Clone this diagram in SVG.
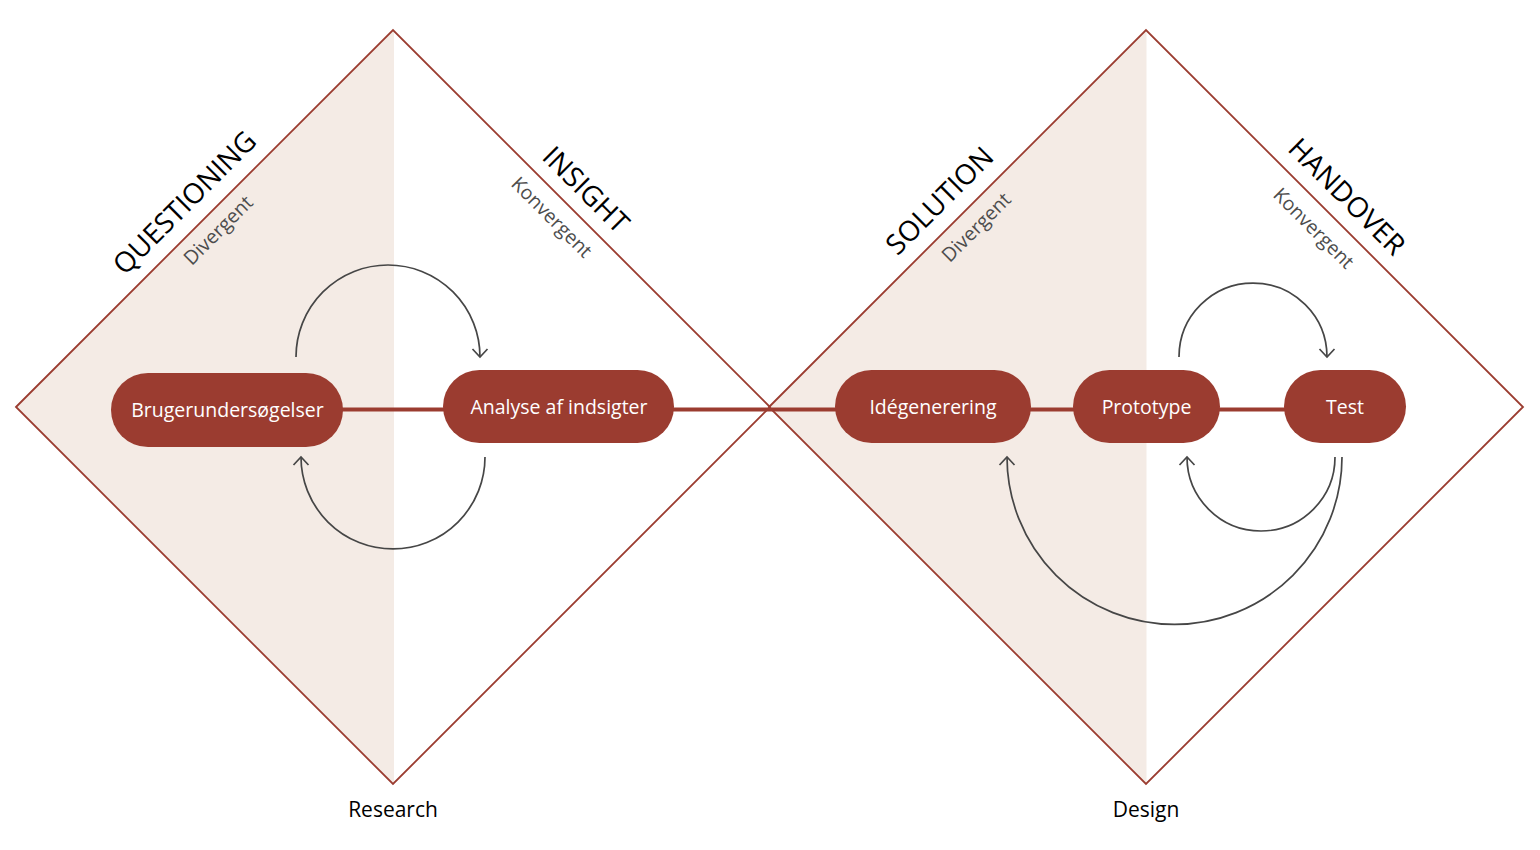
<svg xmlns="http://www.w3.org/2000/svg" width="1540" height="850" viewBox="0 0 1540 850">
<defs>
<style>
.shade{fill:#f4ebe5;stroke:none}
.dia{fill:none;stroke:#9b3c30;stroke-width:1.8;stroke-linejoin:miter}
.pill{fill:#9b3c30}
.link{stroke:#9b3c30;stroke-width:4;fill:none}
.arc{fill:none;stroke:#464646;stroke-width:1.7}
.h{font-family:"Open Sans","Noto Sans",sans-serif;font-size:28px;fill:#000;text-anchor:middle}
.s{font-family:"Open Sans","Noto Sans",sans-serif;font-size:19.5px;fill:#4d4d4d;text-anchor:middle}
.n{font-family:"Open Sans","Noto Sans",sans-serif;font-size:19.5px;fill:#fff;text-anchor:middle}
.b{font-family:"Open Sans","Noto Sans",sans-serif;font-size:21px;fill:#000;text-anchor:middle}
</style>
<marker id="chev" viewBox="-10 -10 20 20" refX="0" refY="0" markerWidth="20" markerHeight="20" markerUnits="userSpaceOnUse" orient="auto">
<path d="M-8,-7.5 L0,0 L-8,7.5" fill="none" stroke="#464646" stroke-width="1.7"/>
</marker>
</defs>

<g id="background">
<polygon class="shade" points="16,407 394,30 394,784"/>
<polygon class="shade" points="769,407 1146.5,30 1146.5,784"/>
<polygon class="dia" points="16,407 393,30 770,407 393,784"/>
<polygon class="dia" points="769,407 1146,30 1523,407 1146,784"/>
</g>

<g id="phase-labels">
<text class="h" transform="translate(191.5,209.5) rotate(-45)">QUESTIONING</text>
<text class="s" transform="translate(223,235) rotate(-45)">Divergent</text>
<text class="h" transform="translate(579,196.5) rotate(45)">INSIGHT</text>
<text class="s" transform="translate(547,222) rotate(45)">Konvergent</text>
<text class="h" transform="translate(946.5,207.5) rotate(-45)">SOLUTION</text>
<text class="s" transform="translate(981,232) rotate(-45)">Divergent</text>
<text class="h" transform="translate(1340,203.5) rotate(45)">HANDOVER</text>
<text class="s" transform="translate(1309,233) rotate(45)">Konvergent</text>
<text class="b" x="393" y="817">Research</text>
<text class="b" x="1146" y="817">Design</text>
</g>

<g id="connectors">
<line class="link" x1="330" y1="409.5" x2="1300" y2="409.5"/>
<path class="arc" d="M296,357 A92,92 0 0 1 480,357" marker-end="url(#chev)"/>
<path class="arc" d="M485,457 A92,92 0 0 1 301,457" marker-end="url(#chev)"/>
<path class="arc" d="M1179,357 A74,74 0 0 1 1327,357" marker-end="url(#chev)"/>
<path class="arc" d="M1335,457 A74,74 0 0 1 1187,457" marker-end="url(#chev)"/>
<path class="arc" d="M1342,457 A167.5,167.5 0 0 1 1007,457" marker-end="url(#chev)"/>
</g>

<g id="node-brugerundersogelser">
<rect class="pill" x="111" y="373" width="232" height="74" rx="37"/>
<text class="n" x="227.5" y="417">Brugerundersøgelser</text>
</g>
<g id="node-analyse">
<rect class="pill" x="443" y="370" width="231" height="73" rx="36.5"/>
<text class="n" x="559" y="413.5">Analyse af indsigter</text>
</g>
<g id="node-idegenerering">
<rect class="pill" x="835" y="370" width="196" height="73" rx="36.5"/>
<text class="n" x="933" y="413.5">Idégenerering</text>
</g>
<g id="node-prototype">
<rect class="pill" x="1073" y="370" width="147" height="73" rx="36.5"/>
<text class="n" x="1146.5" y="413.5">Prototype</text>
</g>
<g id="node-test">
<rect class="pill" x="1284" y="370" width="122" height="73" rx="36.5"/>
<text class="n" x="1345" y="413.5">Test</text>
</g>
</svg>
